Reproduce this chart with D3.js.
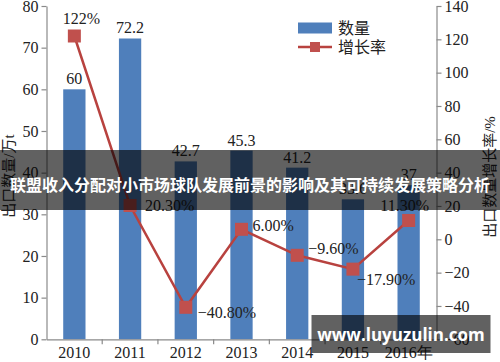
<!DOCTYPE html>
<html><head><meta charset="utf-8">
<script src="https://cdn.jsdelivr.net/npm/d3@7"></script>
<style>body{margin:0;background:#fff}svg{display:block}</style>
</head><body><svg id="c" width="500" height="362"></svg>
<script>
const years = ["2010","2011","2012","2013","2014","2015","2016年"];
const quantity = [60, 72.2, 42.7, 45.3, 41.2, 33.6, 37];
const growth = [122, 20.3, -40.8, 6.0, -9.6, -17.9, 11.3];
const growthLabels = ["122%","20.30%","−40.80%","6.00%","−9.60%","−17.90%","11.30%"];
const leftTicks = [0,10,20,30,40,50,60,70,80];
const rightTicks = [-60,-40,-20,0,20,40,60,80,100,120,140];

const svg = d3.select("#c");
const serif = "'Liberation Serif','Times New Roman',serif";
const cjk = "'Liberation Serif','Noto Sans CJK SC',serif";
const L = 46.5, R = 436.5, T = 6, B = 339.3;
const x = d3.scaleBand().domain(years).range([L, R]).paddingInner(0.6).paddingOuter(0.3);
const xb = d3.scaleBand().domain(years).range([L, R]);
const yL = d3.scaleLinear().domain([0, 80]).range([B, T]);
const yR = d3.scaleLinear().domain([-60, 140]).range([B, T]);
const axisColor = "#8a8a8a";
const barColor = "#4f7fbb";
const red = "#c0504d";

// bars
svg.append("g").selectAll("rect").data(quantity).join("rect")
  .attr("x", (d,i) => x(years[i])).attr("width", x.bandwidth())
  .attr("y", d => yL(d)).attr("height", d => B - yL(d))
  .attr("fill", barColor);

svg.append("g").selectAll("text").data(quantity).join("text")
  .attr("x", (d,i) => xb(years[i]) + xb.bandwidth()/2)
  .attr("y", d => yL(d) - 5)
  .attr("text-anchor", "middle").attr("font-family", serif).attr("font-size", 16).attr("fill", "#222")
  .text(d => d);

// axes
function styleAxis(g){ g.selectAll("path,line").attr("stroke", axisColor).attr("stroke-width", 1.2);
  g.selectAll("text").attr("font-family", serif).attr("font-size", 16).attr("fill", "#222"); }

svg.append("g").attr("transform", `translate(${L},0)`)
  .call(d3.axisLeft(yL).tickValues(leftTicks).tickSize(5).tickSizeOuter(0).tickPadding(3))
  .call(styleAxis);
svg.append("g").attr("transform", `translate(${R},0)`)
  .call(d3.axisRight(yR).tickValues(rightTicks).tickSize(5).tickSizeOuter(0).tickPadding(3)
    .tickFormat(d => d < 0 ? "−" + Math.abs(d) : d))
  .call(styleAxis);
const xg = svg.append("g").attr("transform", `translate(0,${B})`)
  .call(d3.axisBottom(xb).tickSize(0).tickSizeOuter(0).tickPadding(7))
  .call(styleAxis);
xg.selectAll("text").attr("dy", "0.75em");
xg.selectAll(".sep").data(years.slice(1)).join("line").attr("class","sep")
  .attr("x1", d => xb(d)).attr("x2", d => xb(d)).attr("y1", 0).attr("y2", 5)
  .attr("stroke", axisColor).attr("stroke-width", 1.2);

// line
const cx = i => xb(years[i]) + xb.bandwidth()/2;
const line = d3.line().x((d,i) => cx(i)).y(d => yR(d));
svg.append("path").datum(growth).attr("d", line).attr("fill", "none")
  .attr("stroke", "#b8423f").attr("stroke-width", 2.5);
const ms = 13;
svg.append("g").selectAll("rect").data(growth).join("rect")
  .attr("x", (d,i) => cx(i) - ms/2).attr("y", d => yR(d) - ms/2)
  .attr("width", ms).attr("height", ms).attr("fill", red);

const off = [[7,-18,"middle"],[15,0,"start"],[12,5,"start"],[11,-4,"start"],[11,-7,"start"],[4,10,"start"],[-4,-15,"middle"]];
svg.append("g").selectAll("text").data(growth).join("text")
  .attr("x", (d,i) => cx(i) + off[i][0]).attr("y", (d,i) => yR(d) + off[i][1])
  .attr("dy", "0.35em").attr("text-anchor", (d,i) => off[i][2])
  .attr("font-family", serif).attr("font-size", 16).attr("fill", "#222")
  .text((d,i) => growthLabels[i]);

// legend
svg.append("rect").attr("x", 298).attr("y", 22.5).attr("width", 34).attr("height", 11).attr("fill", barColor);
svg.append("text").attr("x", 338).attr("y", 28).attr("dy", "0.35em").attr("font-family", cjk).attr("font-size", 16).attr("fill","#222").text("数量");
svg.append("line").attr("x1", 298).attr("x2", 332).attr("y1", 47).attr("y2", 47).attr("stroke", "#b8423f").attr("stroke-width", 2.5);
svg.append("rect").attr("x", 310).attr("y", 42).attr("width", 10).attr("height", 10).attr("fill", red);
svg.append("text").attr("x", 338).attr("y", 47).attr("dy", "0.35em").attr("font-family", cjk).attr("font-size", 16).attr("fill","#222").text("增长率");

// axis titles
svg.append("text").attr("transform", "translate(9,176) rotate(-90)").attr("text-anchor","middle").attr("dy","0.35em")
  .attr("font-family", cjk).attr("font-size", 15).attr("fill","#222").text("出口数量/万t");
svg.append("text").attr("transform", "translate(490,177) rotate(-90)").attr("text-anchor","middle").attr("dy","0.35em")
  .attr("font-family", cjk).attr("font-size", 15).attr("fill","#222").text("出口数量增长率/%");

// overlays
svg.append("rect").attr("x", 0).attr("y", 150).attr("width", 500).attr("height", 60).attr("fill", "rgba(0,0,0,0.62)");
svg.append("text").attr("x", 250).attr("y", 185).attr("dy","0.35em").attr("text-anchor","middle")
  .attr("font-family","'Noto Sans CJK SC',sans-serif").attr("font-weight","bold").attr("font-size", 16).attr("fill","#fff")
  .text("联盟收入分配对小市场球队发展前景的影响及其可持续发展策略分析");
svg.append("rect").attr("x", 311.5).attr("y", 315).attr("width", 179).attr("height", 38).attr("fill", "rgba(0,0,0,0.62)");
svg.append("text").attr("x", 401).attr("y", 335).attr("dy","0.35em").attr("text-anchor","middle")
  .attr("font-family","'Open Sans','DejaVu Sans',sans-serif").attr("font-weight","bold").attr("font-size", 17).attr("fill","#fff")
  .text("www.luyuzulin.com");
</script></body></html>
